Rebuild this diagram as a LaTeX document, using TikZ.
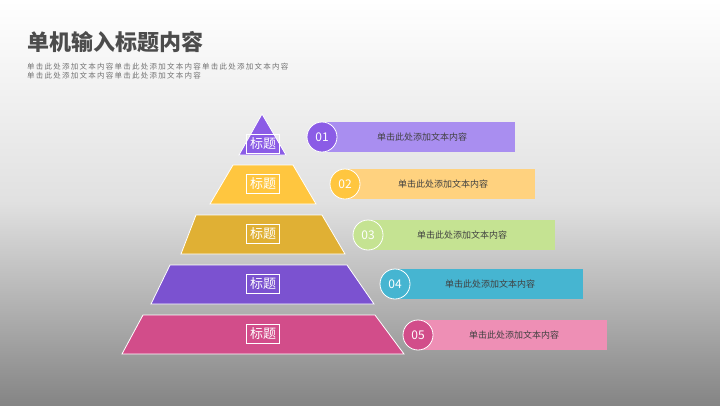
\documentclass[tikz,border=0pt]{standalone}
\usepackage{fontspec}
\setmainfont{Noto Sans CJK SC}
\begin{document}
\begin{tikzpicture}[x=1pt,y=-1pt,
  lvl/.style={draw=white,line width=0.8pt,text=white,font=\fontsize{13}{13}\selectfont},
  bar/.style={text=black!75,font=\fontsize{9}{9}\selectfont},
  num/.style={circle,draw=white,line width=0.8pt,minimum size=30pt,inner sep=0pt,text=white,font=\fontsize{12}{12}\selectfont}]
\shade[top color=white,bottom color=black!48,middle color=black!12] (0,0) rectangle (720,405);
\useasboundingbox (0,0) rectangle (720,405);
\node[anchor=west,text=black!70,font=\bfseries\fontsize{22}{22}\selectfont] (title) at (24,42) {单机输入标题内容};
\node[anchor=north west,align=left,text=black!55,font=\fontsize{7.5}{9}\selectfont,inner sep=0pt] (sub) at (27,63)
  {单\,击\,此\,处\,添\,加\,文\,本\,内\,容\,单\,击\,此\,处\,添\,加\,文\,本\,内\,容\,单\,击\,此\,处\,添\,加\,文\,本\,内\,容\\单\,击\,此\,处\,添\,加\,文\,本\,内\,容\,单\,击\,此\,处\,添\,加\,文\,本\,内\,容};
% pyramid
\fill[color={rgb,255:red,139;green,92;blue,230},draw=white,line width=0.8pt] (262,114)--(286,155)--(239,155)--cycle;
\node[lvl] (p1) at (263,144) {标题};
\fill[color={rgb,255:red,255;green,198;blue,63},draw=white,line width=0.8pt] (233,165)--(293,165)--(316,204)--(210,204)--cycle;
\node[lvl] (p2) at (263,184) {标题};
\fill[color={rgb,255:red,224;green,176;blue,52},draw=white,line width=0.8pt] (196,215)--(322,215)--(345,254)--(181,254)--cycle;
\node[lvl] (p3) at (263,234) {标题};
\fill[color={rgb,255:red,123;green,82;blue,208},draw=white,line width=0.8pt] (170,265)--(347,265)--(374,304)--(151,304)--cycle;
\node[lvl] (p4) at (263,284) {标题};
\fill[color={rgb,255:red,210;green,77;blue,138},draw=white,line width=0.8pt] (143,315)--(375,315)--(404,354)--(122,354)--cycle;
\node[lvl] (p5) at (263,334) {标题};
% bars
\fill[color={rgb,255:red,169;green,142;blue,240}] (322,122) rectangle (515,152);
\node[bar] (t1) at (422,137) {单击此处添加文本内容};
\node[num,fill={rgb,255:red,139;green,92;blue,230}] (c1) at (322,137) {01};
\fill[color={rgb,255:red,255;green,210;blue,127}] (345,169) rectangle (535,199);
\node[bar] (t2) at (443,184) {单击此处添加文本内容};
\node[num,fill={rgb,255:red,255;green,198;blue,63}] (c2) at (345,184) {02};
\fill[color={rgb,255:red,197;green,227;blue,146}] (368,220) rectangle (555,250);
\node[bar] (t3) at (462,235) {单击此处添加文本内容};
\node[num,fill={rgb,255:red,197;green,227;blue,146}] (c3) at (368,235) {03};
\fill[color={rgb,255:red,70;green,181;blue,209}] (395,269) rectangle (583,299);
\node[bar] (t4) at (490,284) {单击此处添加文本内容};
\node[num,fill={rgb,255:red,70;green,181;blue,209}] (c4) at (395,284) {04};
\fill[color={rgb,255:red,238;green,143;blue,181}] (418,320) rectangle (607,350);
\node[bar] (t5) at (514,335) {单击此处添加文本内容};
\node[num,fill={rgb,255:red,210;green,77;blue,138}] (c5) at (418,335) {05};
\end{tikzpicture}
\end{document}
